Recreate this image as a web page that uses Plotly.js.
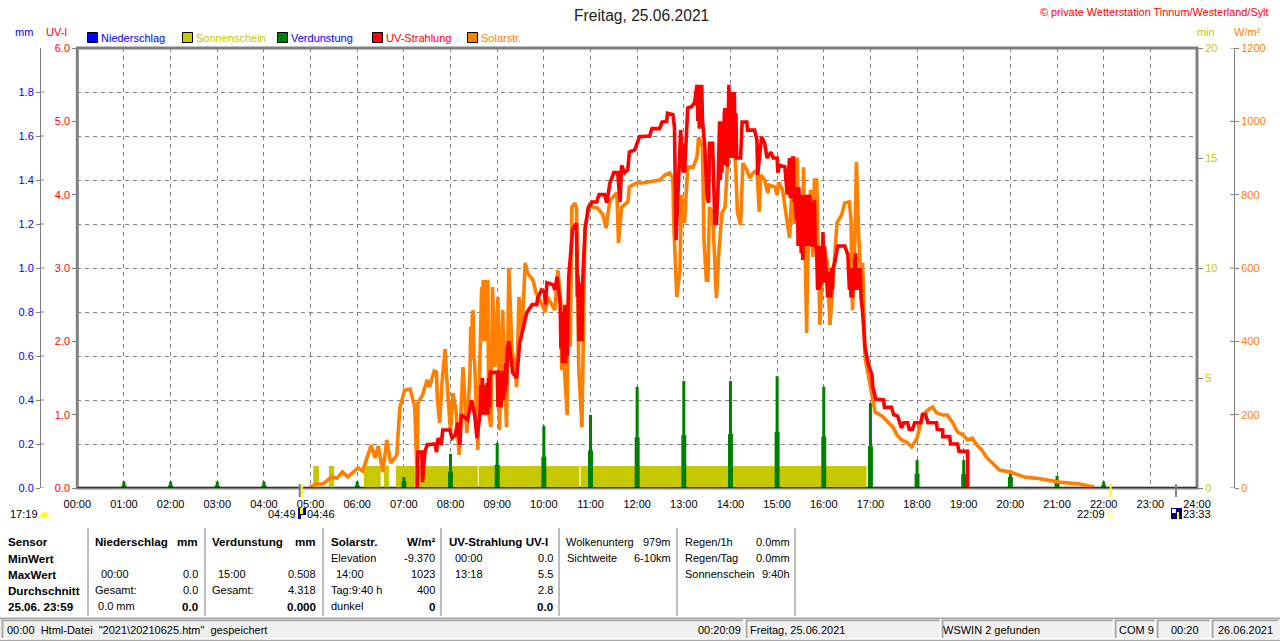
<!DOCTYPE html>
<html><head><meta charset="utf-8">
<script src="https://cdn.plot.ly/plotly-3.0.1.min.js"></script>
<style>html,body{margin:0;padding:0;background:#fff;overflow:hidden}#c{width:1280px;height:641px}</style>
</head><body><div id="c"></div>
<script>
// ---- data (minutes of the day) ----
var hourTicks=[0,60,120,180,240,300,360,420,480,540,600,660,720,780,840,900,960,1020,1080,1140,1200,1260,1320,1380,1440];
var hourLabels=["00:00","01:00","02:00","03:00","04:00","05:00","06:00","07:00","08:00","09:00","10:00","11:00","12:00","13:00","14:00","15:00","16:00","17:00","18:00","19:00","20:00","21:00","22:00","23:00","24:00"];
var uvTicks=[0,1,2,3,4,5,6];
var mmTicks=[0,0.2,0.4,0.6,0.8,1.0,1.2,1.4,1.6,1.8];
var minTicks=[0,5,10,15,20];
var wattTicks=[0,200,400,600,800,1000,1200];

var solarTime=[299,308,316,327,334,341,348,361,367,378,383,387,393,398,403,411,412,415,421,428,434,437,438,444,450,453,459,462,463,466,469,473,475,478,480,483,487,491,495,496,501,
505,506,507,508,509,510,511,515,
520,521,522,523,524,525,526,527,528,
529,532,534,537,541,543,547,552,555,559,563,565,568,572,576,579,586,590,595,602,605,614,618,622,623,626,630,631,634,636,640,642,645,649,650,653,659,663,669,676,680,685,694,696,700,708,710,719,727,749,756,762,766,767,771,775,777,781,785,792,797,799,804,806,809,811,813,817,822,825,829,833,836,840,843,847,849,853,856,861,865,869,874,877,879,884,888,890,897,900,902,907,912,
916,921,922,923,924,925,926,927,928,
932,934,938,939,943,946,948,951,955,957,961,964,968,972,977,983,987,993,995,997,1000,1002,1005,1009,1010,1013,1017,1023,1026,1035,1042,1049,1054,1060,1068,1073,1080,1083,1087,1094,1100,1105,1113,1119,1126,1132,1139,1145,1151,1157,1163,1170,1177,1186,1199,1218,1238,1263,1289,1308];
var solarWatt=[3,11,11,30,27,44,30,55,46,117,82,115,44,131,68,90,131,221,267,270,221,30,232,254,295,275,319,316,245,177,286,379,303,194,153,259,213,90,275,330,150,
314,440,350,470,485,360,341,104,
548,400,567,420,567,400,567,420,567,
205,166,548,330,521,158,485,166,600,376,330,275,521,423,614,586,567,532,513,480,521,485,594,504,322,341,199,494,385,766,777,764,322,166,303,712,777,766,764,745,709,785,805,668,766,780,821,832,832,840,854,859,845,723,521,594,799,723,875,875,903,957,930,676,567,567,766,750,518,641,750,766,875,1023,995,859,750,717,886,867,845,859,867,753,854,840,804,826,821,799,834,813,739,
682,900,720,900,730,900,895,720,712,
641,875,423,586,813,630,840,840,445,540,649,622,445,586,723,745,777,780,731,485,676,889,684,513,614,357,314,248,207,196,180,166,145,131,123,112,136,166,199,213,221,205,199,199,177,153,145,131,136,117,104,82,68,49,44,30,25,16,11,3];

var uvTime=[437,438,443,444,447,450,460,462,464,468,470,479,482,486,489,492,494,502,507,511,514,
518,519,520,521,522,524,525,527,528,529,530,531,533,
540,541,542,543,544,545,547,548,549,550,551,552,553,555,
560,565,569,573,578,585,591,592,597,601,602,604,612,614,617,
621,622,623,624,625,626,627,628,629,630,631,632,
637,642,643,644,645,646,647,648,649,650,
653,657,662,668,671,678,681,685,690,695,698,700,704,708,710,717,723,736,739,749,752,758,759,766,768,769,770,772,776,779,780,781,785,790,794,
797,798,799,800,801,802,803,804,807,810,812,813,817,820,822,
824,826,827,828,829,830,831,832,833,834,835,836,837,838,839,840,841,842,843,844,845,846,847,848,849,
853,855,861,862,871,874,875,880,884,887,892,895,900,901,903,910,912,913,
916,917,918,919,920,921,922,923,925,
926,927,928,929,930,931,932,933,934,935,936,937,938,939,940,941,942,943,944,945,946,947,948,949,950,
951,952,953,954,955,956,957,958,959,960,961,962,963,
965,966,967,968,969,970,971,972,974,
978,987,991,993,994,995,996,997,998,999,1000,1001,1002,1003,1004,1005,1006,1007,1008,1010,
1013,1017,1022,1023,1027,1037,1038,1047,1050,1055,1060,1063,1068,1070,1074,1077,1085,1087,1091,1094,1105,1106,1113,1113,1122,1123,1132,1134,1145,1145];
var uvIndex=[0,.49,.49,.08,.49,.59,.60,.49,.68,.59,.79,.79,.68,.72,.89,.59,1.0,.93,1.2,1.0,.68,
1.02,1.4,1.1,1.5,1.0,1.4,1.0,1.43,1.0,1.5,1.1,1.6,1.57,
1.58,1.1,1.6,1.15,1.6,1.1,1.58,1.2,1.6,1.3,1.7,1.4,1.9,2.0,
1.57,1.5,1.98,2.15,2.39,2.5,2.5,2.59,2.7,2.67,2.5,2.8,2.77,2.7,2.88,
2.5,1.9,2.4,1.7,2.4,1.8,2.5,1.7,2.4,1.8,2.43,2.88,
3.52,3.61,2.6,2.9,2.0,2.8,2.1,2.7,2.0,2.84,
3.52,3.82,3.9,3.9,4.0,4.0,3.89,4.16,4.3,4.3,3.9,4.4,4.3,4.34,4.58,4.61,4.79,4.8,4.9,4.9,4.99,5.0,5.11,5.09,4.92,3.83,3.38,3.89,4.88,4.3,4.7,4.3,5.18,5.2,5.26,
5.5,5.0,5.5,4.9,5.5,5.0,5.5,5.02,4.65,3.95,3.89,4.7,4.7,3.59,3.61,
4.1,5.0,4.2,4.92,4.3,5.0,4.4,5.1,5.18,4.4,5.0,4.38,5.2,5.5,4.6,5.2,4.5,5.4,4.5,5.3,5.4,4.5,5.11,4.5,4.5,
4.5,4.99,4.99,4.88,4.88,4.75,4.27,4.79,4.7,4.5,4.58,4.5,4.5,4.3,4.4,4.38,4.16,4.0,
4.5,3.95,4.5,3.95,4.5,4.5,3.9,3.93,3.65,
4.1,3.3,4.1,3.4,4.0,3.2,4.0,3.11,4.0,3.3,4.0,3.4,4.0,3.3,4.0,3.5,4.0,3.3,3.9,3.29,3.9,3.4,3.93,3.3,3.29,
3.2,2.7,3.3,2.7,3.2,2.75,3.3,2.9,3.49,2.8,3.3,2.9,3.01,
2.6,2.9,2.6,2.95,2.6,3.0,2.7,3.0,3.07,
3.3,3.3,3.18,2.7,3.0,2.6,3.0,2.6,3.0,2.7,3.1,3.2,2.7,3.0,2.75,3.0,2.7,3.0,2.6,2.39,
1.92,1.7,1.54,1.38,1.21,1.2,1.1,1.1,1.0,.98,.82,.89,.89,.8,.8,.89,.89,1.0,1.0,.89,.89,.8,.79,.7,.7,.6,.6,.5,.5,0];

var evapHour=[60,120,180,240,360,420,480,540,600,660,720,780,840,900,960,1020,1080,1140,1200,1260,1320];
var evapPeak=[.03,.03,.03,.03,.03,.05,.155,.206,.283,.332,.46,.486,.486,.508,.46,.386,.127,.127,.08,.055,.03];
var evapBase=[.012,.012,.012,.012,.012,.03,.074,.105,.142,.17,.23,.24,.245,.255,.233,.19,.064,.064,.05,.03,.012];

var sunStart=[303.4,323.6,368.6,394.3,409.7,516.2,647.2];
var sunEnd=[310.8,330.4,390.1,400.7,515,645.7,1015];
var sunMinutes=[1,1,1,1,1,1,1];

var rainTime=[0,1440];
var rainMm=[0,0];

var moonRiseSet=[286,1413];   // 04:46, 23:33
var sunRiseSet=[289,1329];    // 04:49, 22:09

// ---- colours ----
var BLUE="#0000ff",YEL="#c8c800",GRN="#008000",RED="#ff0000",ORG="#ff8000",GR="#808080";
var W=1280,H=641;
function X(p){return p/W} function Y(p){return 1-p/H}

var x0=77.3,x1=1197,yt=48,yb=488;
var FONT="Liberation Sans, Arial, sans-serif";

var traces=[
 {name:"Sonnenschein",type:"bar",xaxis:"x",yaxis:"y",x:sunStart.map(function(s,i){return (s+sunEnd[i])/2}),y:sunMinutes,width:sunStart.map(function(s,i){return sunEnd[i]-s}),marker:{color:YEL,line:{width:0}}},
 {name:"Verdunstung",type:"bar",xaxis:"x",yaxis:"y2",x:evapHour.concat(evapHour),y:evapPeak.concat(evapBase),width:evapHour.map(function(){return 3.9}).concat(evapHour.map(function(){return 6.4})),marker:{color:GRN,line:{width:0}}},
 {name:"Solarstr.",type:"scatter",mode:"lines",xaxis:"x",yaxis:"y3",x:solarTime,y:solarWatt,line:{color:ORG,width:3.6}},
 {name:"UV-Strahlung",type:"scatter",mode:"lines",xaxis:"x",yaxis:"y4",x:uvTime,y:uvIndex,line:{color:RED,width:3.6}},
 {name:"Niederschlag",type:"scatter",mode:"lines",xaxis:"x",yaxis:"y5",x:rainTime,y:rainMm,line:{color:"#0000e0",width:1.6},cliponaxis:false}
];

var dom=[(H-yb)/H,(H-yt)/H];
function tf(c){return {family:FONT,size:11,color:c}}
var layout={
 width:W,height:H,margin:{l:0,r:0,t:0,b:0,pad:0},paper_bgcolor:"#fff",plot_bgcolor:"#fff",showlegend:false,barmode:"overlay",hovermode:false,
 xaxis:{domain:[x0/W,x1/W],range:[0,1440],tickmode:"array",tickvals:hourTicks,ticktext:hourLabels,showgrid:true,gridcolor:GR,griddash:"4px,4px",gridwidth:1,zeroline:false,showline:false,ticks:"",tickfont:{family:FONT,size:11,color:"#000"},ticklabelstandoff:8,tickangle:0,fixedrange:true},
 yaxis:{domain:dom,range:[0,20],side:"right",anchor:"x",tickmode:"array",tickvals:minTicks,ticktext:minTicks.map(String),showgrid:false,zeroline:false,showline:false,ticks:"outside",ticklen:5,tickcolor:GR,tickwidth:1,tickfont:tf(YEL),fixedrange:true},
 yaxis2:{domain:dom,range:[0,2],overlaying:"y",anchor:"free",position:40/W,side:"left",tickmode:"array",tickvals:mmTicks,ticktext:mmTicks.map(function(v){return v.toFixed(1)}),showgrid:true,gridcolor:GR,griddash:"4px,4px",gridwidth:1,zeroline:false,showline:true,linecolor:GR,linewidth:1,ticks:"outside",ticklen:4,tickcolor:GR,tickwidth:1,tickfont:tf(BLUE),fixedrange:true},
 yaxis3:{domain:dom,range:[0,1200],overlaying:"y",anchor:"free",position:1234/W,side:"right",tickmode:"array",tickvals:wattTicks,ticktext:wattTicks.map(String),showgrid:false,zeroline:false,showline:true,linecolor:GR,linewidth:1,ticks:"outside",ticklen:4,tickcolor:GR,tickwidth:1,tickfont:tf(ORG),fixedrange:true},
 yaxis4:{domain:dom,range:[0,6],overlaying:"y",anchor:"free",position:x0/W,side:"left",tickmode:"array",tickvals:uvTicks,ticktext:uvTicks.map(function(v){return v.toFixed(1)}),showgrid:false,zeroline:false,showline:false,ticks:"outside",ticklen:5,tickcolor:GR,tickwidth:1,tickfont:tf(RED),fixedrange:true},
 yaxis5:{domain:dom,range:[0,2],overlaying:"y",visible:false,fixedrange:true}
};

var shapes=[],ann=[];
function rect(a,b,c,d,fill,line,lw,layer){shapes.push({type:"rect",xref:"paper",yref:"paper",x0:X(a),x1:X(c),y0:Y(b),y1:Y(d),fillcolor:fill||"rgba(0,0,0,0)",line:{color:line||"rgba(0,0,0,0)",width:lw||0},layer:layer||"above"})}
function hline(a,c,y,col,lw){shapes.push({type:"line",xref:"paper",yref:"paper",x0:X(a),x1:X(c),y0:Y(y),y1:Y(y),line:{color:col,width:lw}})}
function vline(x,a,b,col,lw){shapes.push({type:"line",xref:"paper",yref:"paper",x0:X(x),x1:X(x),y0:Y(a),y1:Y(b),line:{color:col,width:lw}})}
function T(px,py,t,anchor,col,size,bold){ann.push({xref:"paper",yref:"paper",x:X(px),y:Y(py),xanchor:anchor||"left",yanchor:"middle",text:bold?"<b>"+t+"</b>":t,showarrow:false,borderpad:0,borderwidth:0,font:{family:FONT,size:size||11,color:col||"#000"}})}

// plot frame
rect(x0,yt,x1,yb,null,GR,3,"below");
// right-hand half of the crossing ticks on the free axes
mmTicks.forEach(function(v){shapes.push({type:"line",xref:"paper",yref:"y2",x0:X(40),x1:X(44),y0:v,y1:v,line:{color:GR,width:1}})});
wattTicks.forEach(function(v){shapes.push({type:"line",xref:"paper",yref:"y3",x0:X(1230),x1:X(1234),y0:v,y1:v,line:{color:GR,width:1}})});

// headings
T(641.5,15,"Freitag, 25.06.2021","center","#222",15.6);
T(1269,12,"© private Wetterstation Tinnum/Westerland/Sylt","right",RED,10.9);
T(15,32.5,"mm","left",BLUE,11);
T(46,32.5,"UV-I","left",RED,11);
T(1197,32.5,"min","left",YEL,11);
T(1234,32.5,"W/m²","left",ORG,11);

// legend
var legX=[87,182,277,372,467],legC=[BLUE,YEL,GRN,RED,ORG],legT=["Niederschlag","Sonnenschein","Verdunstung","UV-Strahlung","Solarstr."],legTC=[BLUE,YEL,BLUE,RED,ORG];
legX.forEach(function(x,i){rect(x+.5,32.5,x+10.5,42.5,legC[i],"#000",1);T(x+14,37.5,legT[i],"left",legTC[i],11)});

// sun / moon marks
moonRiseSet.forEach(function(m){shapes.push({type:"line",xref:"x",yref:"paper",x0:m,x1:m,y0:Y(484),y1:Y(497),line:{color:GR,width:2}})});
sunRiseSet.forEach(function(m){shapes.push({type:"line",xref:"x",yref:"paper",x0:m,x1:m,y0:Y(484),y1:Y(497),line:{color:"#ffff00",width:2}})});
T(10,514,"17:19");
shapes.push({type:"path",xref:"paper",yref:"paper",path:"M"+X(40)+" "+Y(517)+" Q"+X(44.5)+" "+Y(507)+" "+X(49)+" "+Y(517)+" Z",fillcolor:"#ffff00",line:{width:0}});
T(296,514,"04:49","right");
rect(298,508,306,519,"#000080");rect(300,508,303,514,"#ffff00");rect(301,515,306,519,"#ffffff");
T(307,514,"04:46");
T(1105,514,"22:09","right");
rect(1108.5,511.5,1113.5,516.5,"#ffffff","#ffff60",1);
rect(1171,508,1182,519,"#000080");rect(1172,509,1176,513,"#ffffff");rect(1177,512,1179,519,"#ffff00");
T(1183,514,"23:33");

// info panel
[88,205,323,441,559,677,795].forEach(function(x){vline(x,528,616,"#a8a8a8",1.5)});
var rows=[541.5,558,574,590,606];
var BS=11.6;
["Sensor","MinWert","MaxWert","Durchschnitt","25.06. 23:59"].forEach(function(s,i){T(8,rows[i],s,"left","#000",BS,true)});
T(94.5,rows[0],"Niederschlag","left","#000",BS,true);T(198,rows[0],"mm","right","#000",BS,true);
T(100.5,rows[2],"00:00");T(198,rows[2],"0.0","right");
T(94.5,rows[3],"Gesamt:");T(198,rows[3],"0.0","right");
T(97.5,rows[4],"0.0 mm");T(198,rows[4],"0.0","right","#000",BS,true);
T(212,rows[0],"Verdunstung","left","#000",BS,true);T(316,rows[0],"mm","right","#000",BS,true);
T(218,rows[2],"15:00");T(316,rows[2],"0.508","right");
T(212,rows[3],"Gesamt:");T(316,rows[3],"4.318","right");
T(316,rows[4],"0.000","right","#000",BS,true);
T(330.5,rows[0],"Solarstr.","left","#000",BS,true);T(435,rows[0],"W/m²","right","#000",BS,true);
T(330.5,rows[1],"Elevation");T(435,rows[1],"-9.370","right");
T(336,rows[2],"14:00");T(435,rows[2],"1023","right");
T(330.5,rows[3],"Tag:9:40 h");T(435,rows[3],"400","right");
T(330.5,rows[4],"dunkel");T(435,rows[4],"0","right","#000",BS,true);
T(448.5,rows[0],"UV-Strahlung UV-I","left","#000",BS,true);
T(454.5,rows[1],"00:00");T(552.5,rows[1],"0.0","right");
T(454.5,rows[2],"13:18");T(552.5,rows[2],"5.5","right");
T(552.5,rows[3],"2.8","right");
T(552.5,rows[4],"0.0","right","#000",BS,true);
T(566,rows[0],"Wolkenunterg");T(671,rows[0],"979m","right");
T(566.5,rows[1],"Sichtweite");T(670.5,rows[1],"6-10km","right");
T(684.5,rows[0],"Regen/1h");T(789.5,rows[0],"0.0mm","right");
T(684.5,rows[1],"Regen/Tag");T(789.5,rows[1],"0.0mm","right");
T(684.5,rows[2],"Sonnenschein");T(789.5,rows[2],"9:40h","right");

// status bar
rect(0,620,W,638,"#f0f0f0");
hline(0,W,618.5,"#a8a8a8",2);
hline(0,W,640.5,"#a8a8a8",1.5);
var boxes=[[2,743],[746,940],[942,1113],[1115,1155],[1157,1210],[1212,1278]];
boxes.forEach(function(b){hline(b[0],b[1],620.5,"#a8a8a8",1.5);vline(b[0]+.5,620,638,"#a8a8a8",2)});
[745,941,1114,1156,1211].forEach(function(x){vline(x-.5,619,638,"#ffffff",1.5)});
T(6.5,630,"00:00&nbsp;&nbsp;Html-Datei&nbsp;&nbsp;\"2021\\20210625.htm\"&nbsp;&nbsp;gespeichert");
T(741,630,"00:20:09","right");
T(750,630,"Freitag, 25.06.2021");
T(943,630,"WSWIN 2 gefunden");
T(1119,630,"COM 9");
T(1170.5,630,"00:20");
T(1218,630,"26.06.2021");

layout.shapes=shapes;layout.annotations=ann;
Plotly.newPlot("c",traces,layout,{displayModeBar:false,staticPlot:true});
</script></body></html>
